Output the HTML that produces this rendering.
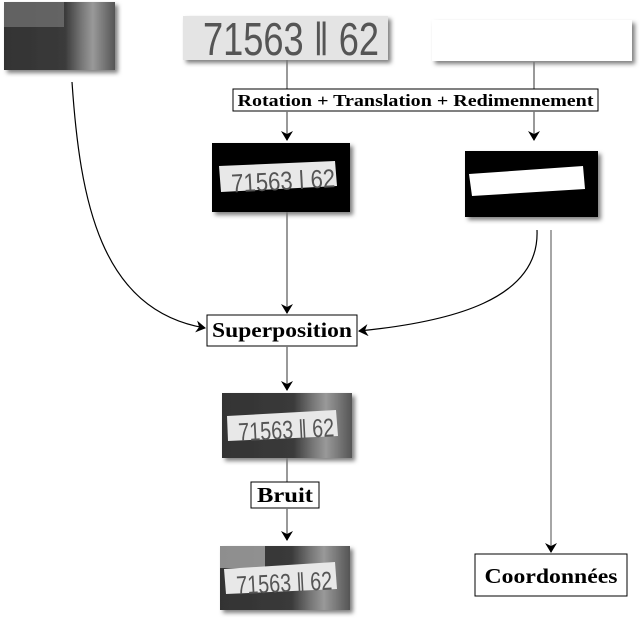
<!DOCTYPE html>
<html><head><meta charset="utf-8"><style>
html,body{margin:0;padding:0;background:#fff;}
svg{display:block;}
.b{font-family:"Liberation Serif",serif;font-weight:bold;fill:#000;}
.p{font-family:"Liberation Sans",sans-serif;fill:#555;}
</style></head><body>
<svg width="643" height="621" viewBox="0 0 643 621" xmlns="http://www.w3.org/2000/svg">
<defs>
<marker id="a" markerWidth="10" markerHeight="12" refX="9" refY="6" orient="auto" markerUnits="userSpaceOnUse">
<path d="M0,0 L10,6 L0,12 L3,6 Z" fill="#000"/></marker>
<filter id="s" x="-10%" y="-10%" width="130%" height="140%"><feDropShadow dx="3" dy="3" stdDeviation="2" flood-color="#000" flood-opacity="0.5"/></filter>
<linearGradient id="g" x1="0" y1="0" x2="1" y2="0"><stop offset="0" stop-color="#333"/><stop offset="0.55" stop-color="#3a3a3a"/><stop offset="0.7" stop-color="#777"/><stop offset="0.8" stop-color="#999"/><stop offset="1" stop-color="#555"/></linearGradient>
</defs>
<!-- top-left photo -->
<rect x="4" y="2" width="111" height="68" fill="url(#g)" filter="url(#s)"/>
<rect x="4" y="2" width="60" height="25" fill="#999" opacity="0.45"/>
<!-- top plate -->
<rect x="183" y="16" width="205" height="44" fill="#e4e4e4" filter="url(#s)"/>
<text x="203" y="55" class="p" font-size="46" textLength="176" lengthAdjust="spacingAndGlyphs">71563 ǁ 62</text>
<!-- white box -->
<rect x="432" y="20" width="200" height="41" fill="#fff" filter="url(#s)"/>
<!-- lines top -->
<line x1="287" y1="60" x2="287" y2="89" stroke="#777" stroke-width="1.5"/>
<line x1="534" y1="62" x2="534" y2="89" stroke="#777" stroke-width="1.5"/>
<rect x="233" y="89" width="365" height="22" fill="#fff" stroke="#000"/>
<text x="415.5" y="106" class="b" font-size="17" text-anchor="middle" textLength="356" lengthAdjust="spacingAndGlyphs">Rotation + Translation + Redimennement</text>
<line x1="287" y1="111" x2="287" y2="140" stroke="#777" stroke-width="1.5" marker-end="url(#a)"/>
<line x1="534" y1="111" x2="534" y2="140" stroke="#777" stroke-width="1.5" marker-end="url(#a)"/>
<!-- black box 1 -->
<rect x="212" y="143" width="138" height="69" fill="#000" filter="url(#s)"/>
<polygon points="219,166 335,161 337,186 221,192" fill="#e8e8e8"/>
<text x="231" y="190" class="p" font-size="26" transform="rotate(-3 280 178)" textLength="104" lengthAdjust="spacingAndGlyphs">71563 ǀ 62</text>
<!-- black box 2 -->
<rect x="465" y="151" width="133" height="66" fill="#000" filter="url(#s)"/>
<polygon points="469,174 583,166 585,189 472,196" fill="#fff"/>
<!-- connectors -->
<line x1="287" y1="212" x2="287" y2="313" stroke="#777" stroke-width="1.5" marker-end="url(#a)"/>
<path d="M72,82 C80,200 100,310 205,328" fill="none" stroke="#000" stroke-width="1.2" marker-end="url(#a)"/>
<path d="M537,230 C540,300 450,322 359,331" fill="none" stroke="#000" stroke-width="1.2" marker-end="url(#a)"/>
<line x1="551" y1="230" x2="551" y2="552" stroke="#888" stroke-width="1.5" marker-end="url(#a)"/>
<rect x="207" y="315" width="150" height="31" fill="#fff" stroke="#000"/>
<text x="282" y="337" class="b" font-size="21" text-anchor="middle" textLength="140" lengthAdjust="spacingAndGlyphs">Superposition</text>
<line x1="287" y1="346" x2="287" y2="390" stroke="#777" stroke-width="1.5" marker-end="url(#a)"/>
<!-- photo 2 -->
<rect x="222" y="393" width="130" height="65" fill="url(#g)" filter="url(#s)"/>
<polygon points="227,416 336,410 338,436 228,441" fill="#e8e8e8"/>
<text x="238" y="439" class="p" font-size="26" transform="rotate(-3 282 426)" textLength="96" lengthAdjust="spacingAndGlyphs">71563 ǁ 62</text>
<line x1="287" y1="458" x2="287" y2="482" stroke="#777" stroke-width="1.5"/>
<rect x="251" y="482" width="68" height="26" fill="#fff" stroke="#000"/>
<text x="285" y="502" class="b" font-size="21" text-anchor="middle" textLength="56" lengthAdjust="spacingAndGlyphs">Bruit</text>
<line x1="287" y1="508" x2="287" y2="540" stroke="#777" stroke-width="1.5" marker-end="url(#a)"/>
<!-- photo 3 -->
<rect x="220" y="546" width="130" height="64" fill="url(#g)" filter="url(#s)"/>
<rect x="220" y="546" width="45" height="22" fill="#ccc" opacity="0.6"/>
<polygon points="224,569 335,562 337,589 226,594" fill="#e8e8e8"/>
<text x="236" y="592" class="p" font-size="26" transform="rotate(-3 282 579)" textLength="96" lengthAdjust="spacingAndGlyphs">71563 ǁ 62</text>
<!-- Coordonnees -->
<rect x="475" y="554" width="152" height="42" fill="#fff" stroke="#000"/>
<text x="551" y="583" class="b" font-size="21" text-anchor="middle" textLength="133" lengthAdjust="spacingAndGlyphs">Coordonnées</text>
</svg>
</body></html>
